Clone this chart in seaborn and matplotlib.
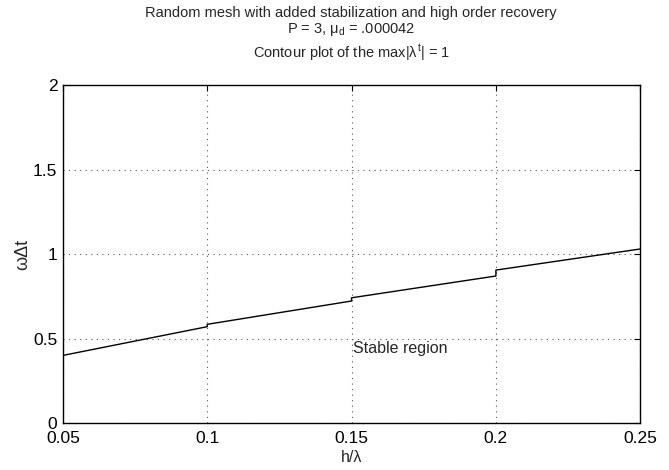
import numpy as np
import pandas as pd
import seaborn as sns
import matplotlib
matplotlib.use("Agg")
import matplotlib.pyplot as plt

# Data (contour line with small jumps at grid changes)
h_lambda = [0.05, 0.10, 0.10, 0.15, 0.15, 0.20, 0.20, 0.25]
omega_dt = [0.400, 0.570, 0.584, 0.722, 0.741, 0.870, 0.905, 1.030]
x_ticks = [0.05, 0.1, 0.15, 0.2, 0.25]
x_tick_labels = ["0.05", "0.1", "0.15", "0.2", "0.25"]
y_ticks = [0, 0.5, 1, 1.5, 2]
y_tick_labels = ["0", "0.5", "1", "1.5", "2"]

sns.set_theme(style="white")
plt.rcParams['font.family'] = ['Liberation Sans', 'DejaVu Sans']
plt.rcParams['mathtext.fontset'] = 'custom'
plt.rcParams['mathtext.rm'] = 'Liberation Sans'
plt.rcParams['mathtext.it'] = 'Liberation Sans'

df = pd.DataFrame({"h": h_lambda, "w": omega_dt})

fig = plt.figure(figsize=(6.69, 4.70), dpi=100)
ax = fig.add_axes([0.094, 0.100, 0.863, 0.719])

sns.lineplot(data=df, x="h", y="w", sort=False, estimator=None, color="black", linewidth=1.0, ax=ax)

ax.set_xlim(0.05, 0.25)
ax.set_ylim(0, 2)
ax.set_xticks(x_ticks)
ax.set_xticklabels(x_tick_labels)
ax.set_yticks(y_ticks)
ax.set_yticklabels(y_tick_labels)
ax.tick_params(direction="in", length=4, width=0.8, top=True, right=True,
               labelsize=12.5, colors="black", pad=4)
ax.tick_params(axis="x", pad=6)
ax.grid(True, linestyle=(0, (1, 4)), color="#555555", linewidth=0.8)
for s in ax.spines.values():
    s.set_visible(True)
    s.set_color("black")
    s.set_linewidth(1.0)

ax.set_xlabel("h/λ", fontsize=11.5, labelpad=3)
ax.set_ylabel("ωΔt", fontsize=13, labelpad=1)

ax.text(0.1505, 0.44, "Stable region", fontsize=11.5, va="center", ha="left")

fig.text(0.525, 0.972, "Random mesh with added stabilization and high order recovery",
         ha="center", va="center", fontsize=10.5)
fig.text(0.525, 0.938, r"P = 3, $\mu_\mathrm{d}$ = .000042", ha="center", va="center", fontsize=10.5)
fig.text(0.525, 0.888, r"Contour plot of the max|$\lambda^\mathrm{t}$| = 1", ha="center", va="center", fontsize=10.5)

fig.savefig("out.png", dpi=100, facecolor="white")
